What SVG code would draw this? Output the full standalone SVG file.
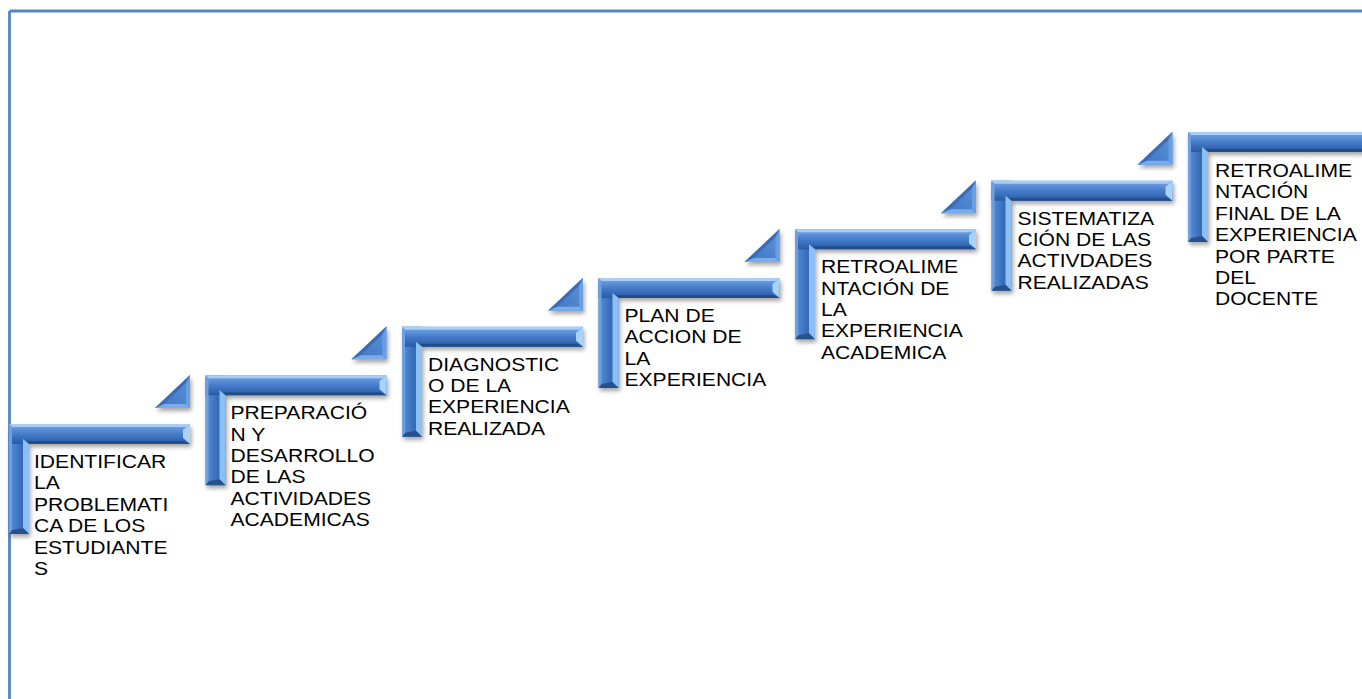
<svg xmlns="http://www.w3.org/2000/svg" xmlns:xlink="http://www.w3.org/1999/xlink" width="1362" height="699" viewBox="0 0 1362 699">
<style>
.lbl{font-family:"Liberation Sans",Arial,sans-serif;font-size:19px;fill:#000}
.frame{fill:none;stroke:#5585c6;stroke-width:2.8}
</style>
<defs>
<filter id="sh" x="-20%" y="-20%" width="150%" height="150%">
<feDropShadow dx="1.5" dy="3" stdDeviation="2" flood-color="#000" flood-opacity="0.35"/>
</filter>
<linearGradient id="gTop" gradientUnits="userSpaceOnUse" x1="0" y1="0" x2="0" y2="20">
<stop offset="0" stop-color="#79a8e6"/>
<stop offset="0.5" stop-color="#457cca"/>
<stop offset="1" stop-color="#295aa3"/>
</linearGradient>
<linearGradient id="gVert" gradientUnits="userSpaceOnUse" x1="0" y1="0" x2="20" y2="0">
<stop offset="0" stop-color="#5a8fd6"/>
<stop offset="0.6" stop-color="#366cbb"/>
<stop offset="1" stop-color="#366cbb"/>
</linearGradient>
<linearGradient id="gTri" gradientUnits="userSpaceOnUse" x1="0" y1="33" x2="35" y2="0">
<stop offset="0" stop-color="#3d72c0"/>
<stop offset="1" stop-color="#5d93da"/>
</linearGradient>
<g id="ell">
<polygon points="0,0 20,0 20,110 0,110" fill="url(#gVert)"/>
<polygon points="0,0 181,0 181,20 20,20 0,20" fill="url(#gTop)"/>
<polygon points="0,0 181,0 177,3 3,3" fill="#a9cdf5"/>
<polygon points="181,0 181,20 174,14 174,6" fill="#a8d2f8"/>
<polygon points="181,20 20,20 17,17 175,17" fill="#224d8b"/>
<polygon points="20,20 20,110 14,104 14,15" fill="#8cc0f2"/>
<polygon points="20,110 0,110 3,106 14,104" fill="#25518d"/>
<polygon points="0,0 3,3 3,106 0,110" fill="#6e9fe0"/>
</g>
<g id="tri">
<polygon points="0,33 35,33 35,0" fill="url(#gTri)"/>
<polygon points="0,33 35,33 31,29 9,29" fill="#78acea"/>
<polygon points="35,33 35,0 31,8 31,29" fill="#6a9fe2"/>
<polygon points="35,0 0,33 9,29 31,8" fill="#3a6cb6"/>
</g>
</defs>
<rect width="1362" height="699" fill="#fff"/>
<path class="frame" d="M9.5,11 H1362 M9.5,11 V699"/>
<g id="connectors"/>
<g id="step1" transform="translate(9,424)">
<use xlink:href="#ell" href="#ell" filter="url(#sh)"/>
<use xlink:href="#tri" href="#tri" x="146" y="-49" filter="url(#sh)"/>
<text class="lbl" transform="translate(25,44) scale(1.11,1)"><tspan x="0" y="0">IDENTIFICAR</tspan><tspan x="0" y="21.4">LA</tspan><tspan x="0" y="42.8">PROBLEMATI</tspan><tspan x="0" y="64.2">CA DE LOS</tspan><tspan x="0" y="85.6">ESTUDIANTE</tspan><tspan x="0" y="107">S</tspan></text>
</g>
<g id="step2" transform="translate(205.5,375.3)">
<use xlink:href="#ell" href="#ell" filter="url(#sh)"/>
<use xlink:href="#tri" href="#tri" x="146" y="-49" filter="url(#sh)"/>
<text class="lbl" transform="translate(25,44) scale(1.11,1)"><tspan x="0" y="0">PREPARACIÓ</tspan><tspan x="0" y="21.4">N Y</tspan><tspan x="0" y="42.8">DESARROLLO</tspan><tspan x="0" y="64.2">DE LAS</tspan><tspan x="0" y="85.6">ACTIVIDADES</tspan><tspan x="0" y="107">ACADEMICAS</tspan></text>
</g>
<g id="step3" transform="translate(402,326.7)">
<use xlink:href="#ell" href="#ell" filter="url(#sh)"/>
<use xlink:href="#tri" href="#tri" x="146" y="-49" filter="url(#sh)"/>
<text class="lbl" transform="translate(26,44) scale(1.11,1)"><tspan x="0" y="0">DIAGNOSTIC</tspan><tspan x="0" y="21.4">O DE LA</tspan><tspan x="0" y="42.8">EXPERIENCIA</tspan><tspan x="0" y="64.2">REALIZADA</tspan></text>
</g>
<g id="step4" transform="translate(598.5,278)">
<use xlink:href="#ell" href="#ell" filter="url(#sh)"/>
<use xlink:href="#tri" href="#tri" x="146" y="-49" filter="url(#sh)"/>
<text class="lbl" transform="translate(26,44) scale(1.11,1)"><tspan x="0" y="0">PLAN DE</tspan><tspan x="0" y="21.4">ACCION DE</tspan><tspan x="0" y="42.8">LA</tspan><tspan x="0" y="64.2">EXPERIENCIA</tspan></text>
</g>
<g id="step5" transform="translate(795,229.3)">
<use xlink:href="#ell" href="#ell" filter="url(#sh)"/>
<use xlink:href="#tri" href="#tri" x="146" y="-49" filter="url(#sh)"/>
<text class="lbl" transform="translate(26,44) scale(1.11,1)"><tspan x="0" y="0">RETROALIME</tspan><tspan x="0" y="21.4">NTACIÓN DE</tspan><tspan x="0" y="42.8">LA</tspan><tspan x="0" y="64.2">EXPERIENCIA</tspan><tspan x="0" y="85.6">ACADEMICA</tspan></text>
</g>
<g id="step6" transform="translate(991.5,180.7)">
<use xlink:href="#ell" href="#ell" filter="url(#sh)"/>
<use xlink:href="#tri" href="#tri" x="146" y="-49" filter="url(#sh)"/>
<text class="lbl" transform="translate(26,44) scale(1.11,1)"><tspan x="0" y="0">SISTEMATIZA</tspan><tspan x="0" y="21.4">CIÓN DE LAS</tspan><tspan x="0" y="42.8">ACTIVDADES</tspan><tspan x="0" y="64.2">REALIZADAS</tspan></text>
</g>
<g id="step7" transform="translate(1188,132)">
<use xlink:href="#ell" href="#ell" filter="url(#sh)"/>
<text class="lbl" transform="translate(27,45) scale(1.11,1)"><tspan x="0" y="0">RETROALIME</tspan><tspan x="0" y="21.4">NTACIÓN</tspan><tspan x="0" y="42.8">FINAL DE LA</tspan><tspan x="0" y="64.2">EXPERIENCIA</tspan><tspan x="0" y="85.6">POR PARTE</tspan><tspan x="0" y="107">DEL</tspan><tspan x="0" y="128.4">DOCENTE</tspan></text>
</g>
</svg>
